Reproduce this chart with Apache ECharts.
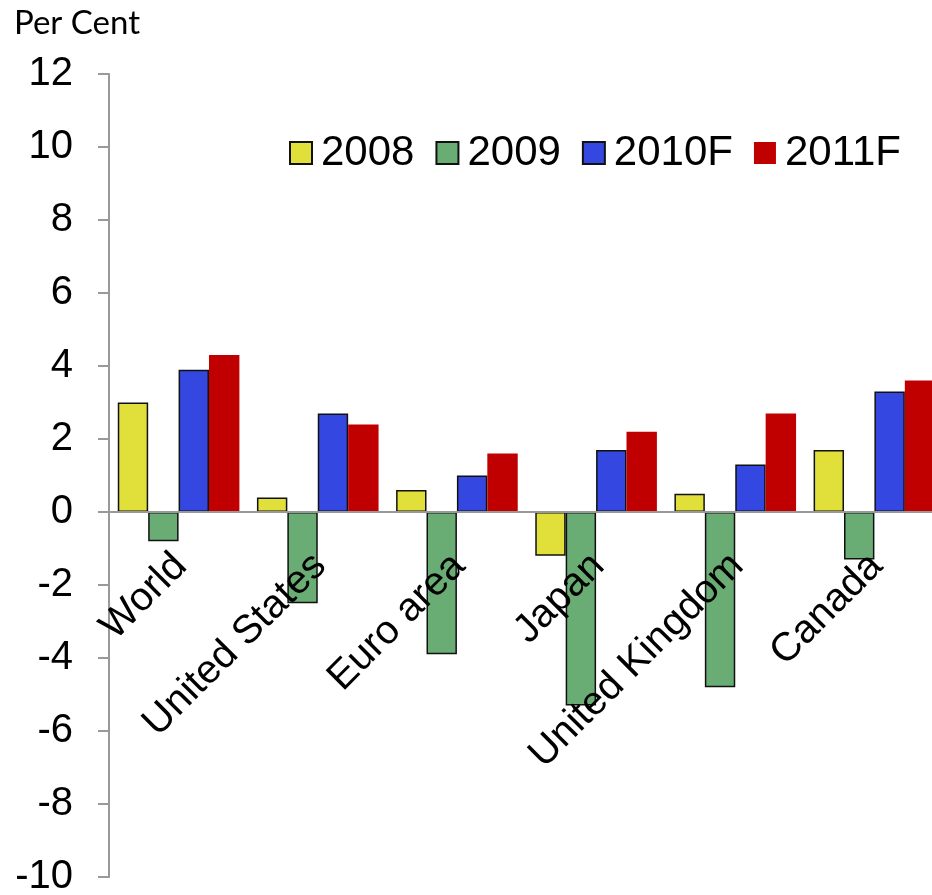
<!DOCTYPE html>
<html>
<head>
<meta charset="utf-8">
<script src="https://cdn.jsdelivr.net/npm/echarts@6/dist/echarts.min.js"></script>
<style>
  html, body { margin: 0; padding: 0; background: #fff; }
  #main { width: 932px; height: 895px; }
</style>
</head>
<body>
<div id="main"></div>
<script>
// data
var regions = ['World', 'United States', 'Euro area', 'Japan', 'United Kingdom', 'Canada'];
var years = ['2008', '2009', '2010F', '2011F'];
var g2008 = [3.0, 0.4, 0.6, -1.2, 0.5, 1.7];
var g2009 = [-0.8, -2.5, -3.9, -5.3, -4.8, -1.3];
var g2010 = [3.9, 2.7, 1.0, 1.7, 1.3, 3.3];
var g2011 = [4.3, 2.4, 1.6, 2.2, 2.7, 3.6];

var colors = ['#e1e03a', '#69ad75', '#3447e0', '#c00000'];
var font = '"Liberation Sans", Arial, sans-serif';

function bar(name, data, color, border) {
    return {
        name: name,
        type: 'bar',
        data: data,
        barGap: '0%',
        barCategoryGap: '12.6%',
        itemStyle: {
            color: color,
            borderColor: border ? '#111' : color,
            borderWidth: border ? 1.5 : 0
        }
    };
}

var chart = echarts.init(document.getElementById('main'));
var option = {
    animation: false,
    title: {
        text: 'Per Cent',
        left: 9,
        top: 2,
        textStyle: { fontFamily: 'Lato', fontWeight: 'normal', fontSize: 33, color: '#000' }
    },
    legend: {
        data: years,
        left: 284,
        top: 127,
        icon: 'rect',
        itemWidth: 22,
        itemHeight: 22,
        itemGap: 21,
        textStyle: { fontFamily: font, fontSize: 42, color: '#000', padding: [0, 0, 0, 4] }
    },
    grid: {
        left: 109,
        right: -12,
        top: 74,
        bottom: 18,
        containLabel: false,
        outerBoundsMode: 'none'
    },
    xAxis: {
        type: 'category',
        data: regions,
        z: 5,
        axisLine: { onZero: true, lineStyle: { color: '#999', width: 2 } },
        axisTick: { show: false },
        axisLabel: {
            interval: 0,
            rotate: 45,
            // labels stay at the grid bottom, pull them up under the zero line
            margin: -315,
            align: 'right',
            verticalAlign: 'middle',
            padding: [0, -3, 0, 0],
            fontFamily: font,
            fontSize: 40,
            color: '#000'
        }
    },
    yAxis: {
        type: 'value',
        min: -10,
        max: 12,
        interval: 2,
        splitLine: { show: false },
        axisLine: { show: true, lineStyle: { color: '#999', width: 2 } },
        axisTick: { show: true, length: 11, lineStyle: { color: '#999', width: 2 } },
        axisLabel: { margin: 36, fontFamily: font, fontSize: 40, color: '#000' }
    },
    series: [
        bar(years[0], g2008, colors[0], true),
        bar(years[1], g2009, colors[1], true),
        bar(years[2], g2010, colors[2], true),
        bar(years[3], g2011, colors[3], false)
    ]
};
chart.setOption(option);
</script>
</body>
</html>
